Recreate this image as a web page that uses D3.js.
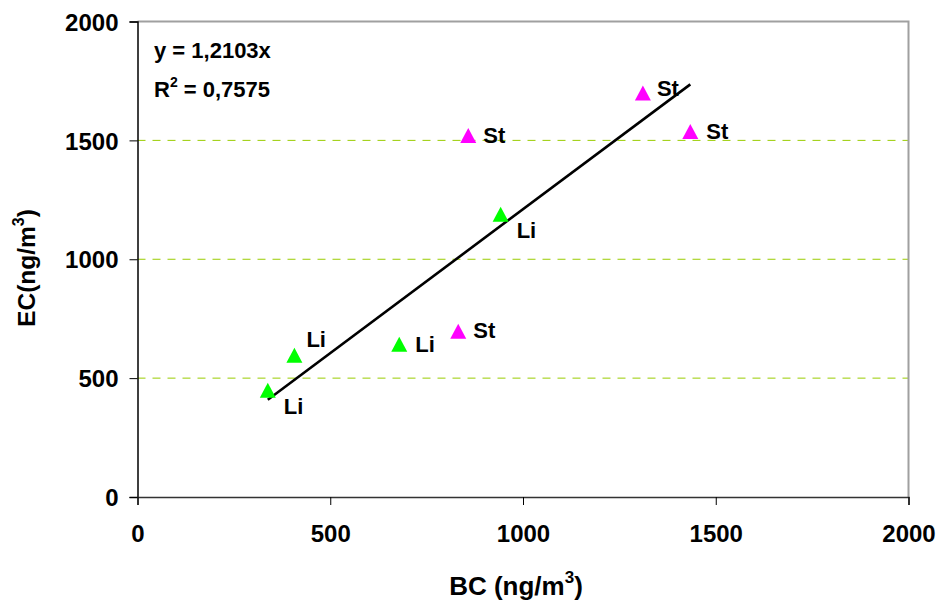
<!DOCTYPE html>
<html>
<head>
<meta charset="utf-8">
<script src="https://cdn.jsdelivr.net/npm/d3@7/dist/d3.min.js"></script>
<style>
  html, body { margin: 0; padding: 0; background: #fff; }
  svg { display: block; font-family: "Liberation Sans", Arial, Helvetica, sans-serif; font-weight: bold; }
</style>
</head>
<body>
<svg id="chart" width="937" height="600"></svg>
<script>
// BC vs EC measurements, grouped by site (Li / St)
const siteLabels = ["Li", "Li", "Li", "Li", "St", "St", "St", "St"];
const bcValues   = [338, 407, 679, 942, 832, 858, 1311, 1434];
const ecValues   = [449, 596, 643, 1189, 697, 1521, 1699, 1537];
const siteColors = { Li: "#00ff00", St: "#ff00ff" };

// Axis ticks
const xTicks = [0, 500, 1000, 1500, 2000];
const yTicks = [0, 500, 1000, 1500, 2000];

// Linear fit through the origin
const slope = 1.2103;
const rSquared = "0,7575";

// Label placement relative to each marker (dx, dy in px)
const labelOffsets = [[16, 24], [12, -8], [16, 8], [16, 24], [15, 7], [15, 8], [14, 3], [16, 7]];

const svg = d3.select("#chart");
const plot = { left: 137.5, right: 908.5, top: 21.5, bottom: 497 };

const x = d3.scaleLinear().domain([0, 2000]).range([plot.left, plot.right]);
const y = d3.scaleLinear().domain([0, 2000]).range([plot.bottom, plot.top]);

// Dashed horizontal gridlines
svg.append("g")
  .selectAll("line")
  .data(yTicks.filter(t => t > 0 && t < 2000))
  .join("line")
  .attr("x1", plot.left).attr("x2", plot.right)
  .attr("y1", d => y(d)).attr("y2", d => y(d))
  .attr("stroke", "#99cc00")
  .attr("stroke-width", 1)
  .attr("stroke-dasharray", "8,7");

// Plot frame (top and right in grey)
svg.append("path")
  .attr("d", `M${plot.left},${plot.top}H${plot.right}V${plot.bottom}`)
  .attr("fill", "none")
  .attr("stroke", "#a0a0a0")
  .attr("stroke-width", 2);

// Y axis
const yAxis = svg.append("g")
  .attr("transform", `translate(${plot.left},0)`)
  .call(d3.axisLeft(y).tickValues(yTicks).tickSize(8).tickPadding(11).tickFormat(d3.format("d")));
yAxis.select(".domain").attr("stroke", "#000").attr("stroke-width", 1.5);
yAxis.selectAll(".tick line").attr("stroke", "#000");
yAxis.selectAll(".tick text")
  .attr("font-size", 24).attr("font-weight", "bold").attr("fill", "#000")
  .attr("font-family", "Liberation Sans, Arial, sans-serif")
  .attr("dy", "0.36em");

// X axis
const xAxis = svg.append("g")
  .attr("transform", `translate(0,${plot.bottom})`)
  .call(d3.axisBottom(x).tickValues(xTicks).tickSize(8).tickPadding(20).tickFormat(d3.format("d")));
xAxis.select(".domain").attr("stroke", "#333").attr("stroke-width", 1.5);
xAxis.selectAll(".tick line").attr("stroke", "#000");
xAxis.selectAll(".tick text")
  .attr("font-size", 24).attr("font-weight", "bold").attr("fill", "#000")
  .attr("font-family", "Liberation Sans, Arial, sans-serif");

// Regression line spanning the data range
const xMin = d3.min(bcValues), xMax = d3.max(bcValues);
svg.append("line")
  .attr("x1", x(xMin)).attr("y1", y(slope * xMin))
  .attr("x2", x(xMax)).attr("y2", y(slope * xMax))
  .attr("stroke", "#000")
  .attr("stroke-width", 2.6);

// Triangle markers
const points = bcValues.map((bc, i) => ({ bc, ec: ecValues[i], site: siteLabels[i], off: labelOffsets[i] }));
const tri = (cx, cy) => `M${cx},${cy - 7.5}L${cx + 8},${cy + 7.5}L${cx - 8},${cy + 7.5}Z`;

svg.append("g")
  .selectAll("path")
  .data(points)
  .join("path")
  .attr("d", d => tri(x(d.bc), y(d.ec)))
  .attr("fill", d => siteColors[d.site]);

// Site labels
svg.append("g")
  .selectAll("text")
  .data(points)
  .join("text")
  .attr("x", d => x(d.bc) + d.off[0])
  .attr("y", d => y(d.ec) + d.off[1])
  .attr("font-size", 22)
  .attr("fill", "#000")
  .text(d => d.site);

// Equation and R²
svg.append("text")
  .attr("x", 154).attr("y", 58)
  .attr("font-size", 22)
  .text(`y = ${String(slope).replace(".", ",")}x`);

const r2 = svg.append("text").attr("x", 154).attr("y", 97).attr("font-size", 22);
r2.append("tspan").text("R");
r2.append("tspan").attr("font-size", 14).attr("dy", -10).text("2");
r2.append("tspan").attr("dy", 10).text(` = ${rSquared}`);

// Axis titles
const xt = svg.append("text")
  .attr("x", 516).attr("y", 595)
  .attr("text-anchor", "middle")
  .attr("font-size", 26);
xt.append("tspan").text("BC (ng/m");
xt.append("tspan").attr("font-size", 17).attr("dy", -12).text("3");
xt.append("tspan").attr("dy", 12).text(")");

const yt = svg.append("text")
  .attr("transform", "translate(35,268) rotate(-90)")
  .attr("text-anchor", "middle")
  .attr("font-size", 24.5);
yt.append("tspan").text("EC(ng/m");
yt.append("tspan").attr("font-size", 16).attr("dy", -11).text("3");
yt.append("tspan").attr("dy", 11).text(")");
</script>
</body>
</html>
